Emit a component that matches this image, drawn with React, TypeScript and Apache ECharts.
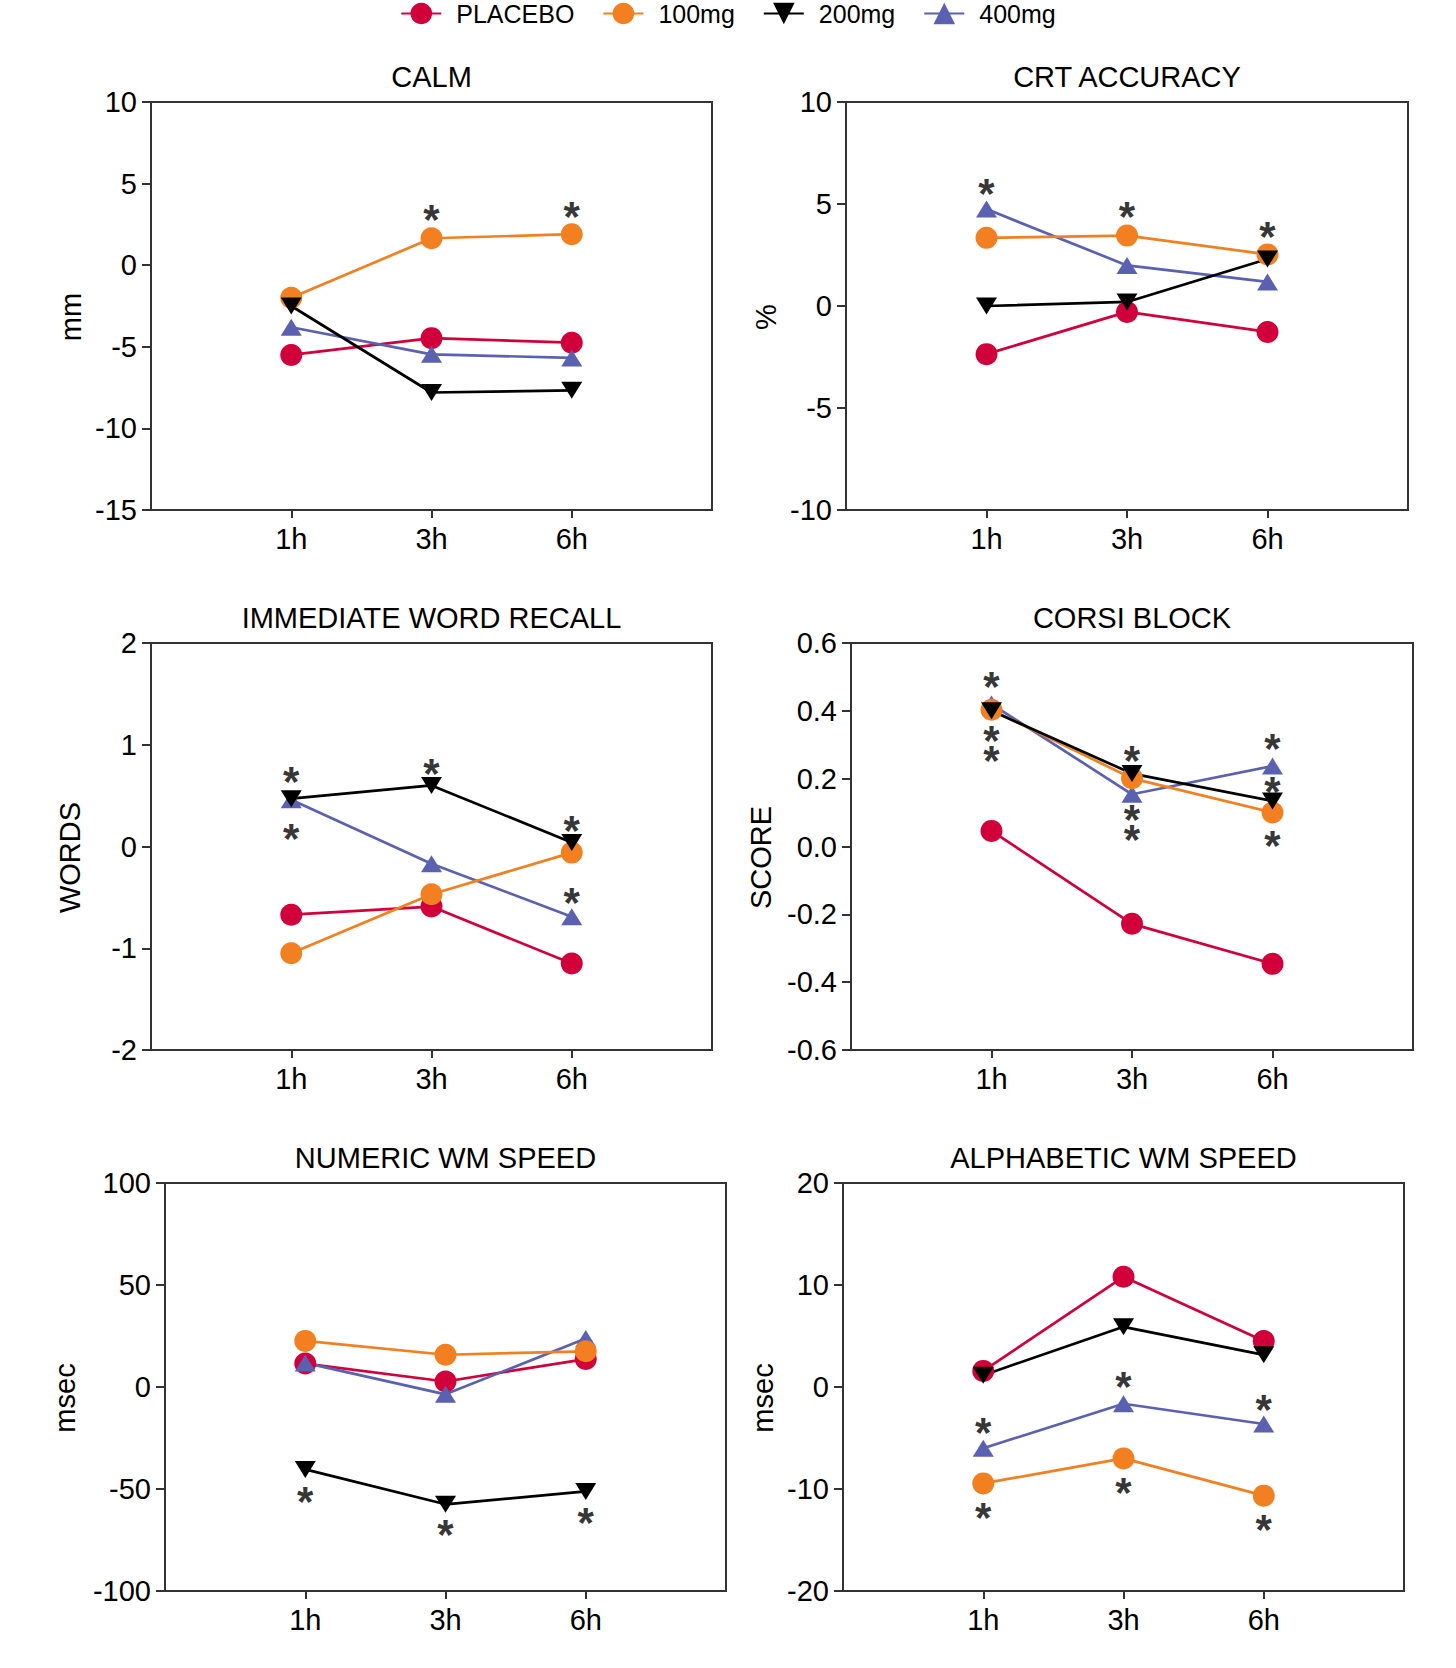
import { useEffect, useRef } from 'react'
import * as echarts from 'echarts'

const TIMES = ['1h', '3h', '6h']
const GROUPS = ['PLACEBO', '100mg', '200mg', '400mg']
const COLORS = ['#d2003a', '#f28020', '#000000', '#5b61b1']

// each panel: one row per group (PLACEBO, 100mg, 200mg, 400mg), one value per time point
const CALM = [
  [-5.5, -4.47, -4.75],
  [-2.0, 1.65, 1.9],
  [-2.5, -7.8, -7.67],
  [-3.8, -5.46, -5.68],
]
const CRT = [
  [-2.36, -0.29, -1.27],
  [3.34, 3.45, 2.53],
  [0.0, 0.2, 2.3],
  [4.75, 1.99, 1.18],
]
const WORDS = [
  [-0.67, -0.59, -1.15],
  [-1.05, -0.47, -0.06],
  [0.47, 0.6, 0.04],
  [0.46, -0.17, -0.69],
]
const CORSI = [
  [0.046, -0.228, -0.346],
  [0.403, 0.201, 0.1],
  [0.4, 0.215, 0.134],
  [0.42, 0.154, 0.237],
]
const NUMERIC = [
  [11.5, 2.7, 13.7],
  [22.6, 15.8, 17.5],
  [-40.4, -57.5, -51.2],
  [11.8, -3.6, 23.8],
]
const ALPHA = [
  [1.58, 10.8, 4.5],
  [-9.45, -7.0, -10.65],
  [1.16, 5.9, 3.15],
  [-6.0, -1.64, -3.63],
]

// significance asterisks: [time point (1..3), y value of the mark's centre, number of stacked stars]
const CALM_STARS = [[2, 3.16, 1], [3, 3.33, 1]]
const CRT_STARS = [[1, 5.79, 1], [2, 4.66, 1], [3, 3.68, 1]]
const WORDS_STARS = [[1, 0.7, 1], [1, 0.14, 1], [2, 0.78, 1], [3, 0.22, 1], [3, -0.49, 1]]
const CORSI_STARS = [
  [1, 0.489, 1], [1, 0.3, 2],
  [2, 0.271, 1], [2, 0.068, 2],
  [3, 0.307, 1], [3, 0.18, 1], [3, 0.022, 1],
]
const NUMERIC_STARS = [[1, -53.3, 1], [2, -69.5, 1], [3, -63.5, 1]]
const ALPHA_STARS = [[1, -3.9, 1], [1, -12.2, 1], [2, 0.65, 1], [2, -9.73, 1], [3, -1.64, 1], [3, -13.4, 1]]

const FONT = '"Liberation Sans", Arial, Helvetica, sans-serif'

const PAINEIS = [
  { titulo: 'CALM', unidade: 'mm', min: -15, max: 10, intervalo: 5, casas: 0, valores: CALM, estrelas: CALM_STARS,
    grid: { left: 151, top: 102, width: 561, height: 408 }, gap: 66, tituloTop: 62 },
  { titulo: 'CRT ACCURACY', unidade: '%', min: -10, max: 10, intervalo: 5, casas: 0, valores: CRT, estrelas: CRT_STARS,
    grid: { left: 846, top: 102, width: 562, height: 408 }, gap: 66, tituloTop: 62 },
  { titulo: 'IMMEDIATE WORD RECALL', unidade: 'WORDS', min: -2, max: 2, intervalo: 1, casas: 0, valores: WORDS, estrelas: WORDS_STARS,
    grid: { left: 151, top: 643, width: 561, height: 407 }, gap: 67, tituloTop: 603 },
  { titulo: 'CORSI BLOCK', unidade: 'SCORE', min: -0.6, max: 0.6, intervalo: 0.2, casas: 1, valores: CORSI, estrelas: CORSI_STARS,
    grid: { left: 851, top: 643, width: 562, height: 407 }, gap: 76, tituloTop: 603 },
  { titulo: 'NUMERIC WM SPEED', unidade: 'msec', min: -100, max: 100, intervalo: 50, casas: 0, valores: NUMERIC, estrelas: NUMERIC_STARS,
    grid: { left: 165, top: 1183, width: 561, height: 408 }, gap: 86, tituloTop: 1143 },
  { titulo: 'ALPHABETIC WM SPEED', unidade: 'msec', min: -20, max: 20, intervalo: 10, casas: 0, valores: ALPHA, estrelas: ALPHA_STARS,
    grid: { left: 843, top: 1183, width: 561, height: 408 }, gap: 66, tituloTop: 1143 },
]

const EIXO = { color: '#333', width: 2 }
const ORDEM_DESENHO = [0, 3, 1, 2]

export default function App() {
  const ref = useRef<HTMLDivElement>(null)

  useEffect(() => {
    document.body.style.margin = '0'
    if (!ref.current) return
    const chart = echarts.init(ref.current, undefined, { renderer: 'svg' })

    const series: any[] = []
    PAINEIS.forEach((p, i) => {
      ORDEM_DESENHO.forEach((g) => {
        series.push({
          type: 'line',
          name: GROUPS[g],
          xAxisIndex: i,
          yAxisIndex: i,
          data: p.valores[g].map((v, k) => [k + 1, v]),
          symbol: g < 2 ? 'circle' : 'triangle',
          symbolRotate: g === 2 ? 180 : 0,
          symbolSize: g < 2 ? 22 : [21, 17],
          itemStyle: { color: COLORS[g] },
          lineStyle: { color: COLORS[g], width: 2.7 },
          emphasis: { disabled: true },
        })
      })
      // asteriscos de significancia: um rotulo de texto por marca, empilhados quando ha mais de um
      series.push({
        type: 'scatter',
        name: 'sig-' + i,
        xAxisIndex: i,
        yAxisIndex: i,
        data: p.estrelas,
        symbolSize: 0,
        silent: true,
        z: 5,
        label: {
          show: true,
          position: 'inside',
          formatter: (d: any) => Array(d.value[2]).fill('*').join('\n'),
          fontSize: 42,
          lineHeight: 20,
          fontWeight: 'bold',
          fontFamily: FONT,
          color: '#000',
          offset: [0, 6],
        },
      })
    })

    chart.setOption({
      animation: false,
      backgroundColor: '#fff',
      textStyle: { fontFamily: FONT },
      legend: {
        data: GROUPS,
        top: 1,
        left: 'center',
        padding: 0,
        itemWidth: 40,
        itemHeight: 27,
        itemGap: 28,
        textStyle: { fontSize: 25, color: '#000', fontFamily: FONT, padding: [0, 0, 0, 10] },
      },
      title: PAINEIS.map((p) => ({
        text: p.titulo,
        left: p.grid.left + p.grid.width / 2,
        top: p.tituloTop,
        textAlign: 'center',
        padding: 0,
        textStyle: { fontSize: 29, fontWeight: 'normal', color: '#000', fontFamily: FONT },
      })),
      grid: PAINEIS.map((p) => ({
        ...p.grid,
        show: true,
        borderColor: '#333',
        borderWidth: 2,
        backgroundColor: 'transparent',
      })),
      xAxis: PAINEIS.map((_, i) => ({
        type: 'value',
        gridIndex: i,
        min: 0,
        max: 4,
        interval: 1,
        splitLine: { show: false },
        axisLine: { show: true, onZero: false, lineStyle: EIXO },
        axisTick: { show: true, length: 8, lineStyle: EIXO, customValues: [1, 2, 3] },
        axisLabel: {
          customValues: [1, 2, 3],
          formatter: (v: number) => TIMES[v - 1] ?? '',
          fontSize: 29,
          color: '#000',
          margin: 14,
          fontFamily: FONT,
        },
      })),
      yAxis: PAINEIS.map((p, i) => ({
        type: 'value',
        gridIndex: i,
        min: p.min,
        max: p.max,
        interval: p.intervalo,
        name: p.unidade,
        nameLocation: 'middle',
        nameGap: p.gap,
        nameRotate: 90,
        nameTextStyle: { fontSize: 29, color: '#000', fontFamily: FONT, padding: [0, 22, 0, 0] },
        splitLine: { show: false },
        axisLine: { show: true, onZero: false, lineStyle: EIXO },
        axisTick: { show: true, length: 9, lineStyle: EIXO },
        axisLabel: {
          fontSize: 29,
          color: '#000',
          margin: 14,
          fontFamily: FONT,
          formatter: (v: number) => v.toFixed(p.casas),
        },
      })),
      series,
    })

    return () => chart.dispose()
  }, [])

  return <div ref={ref} style={{ width: 1456, height: 1668 }} />
}
